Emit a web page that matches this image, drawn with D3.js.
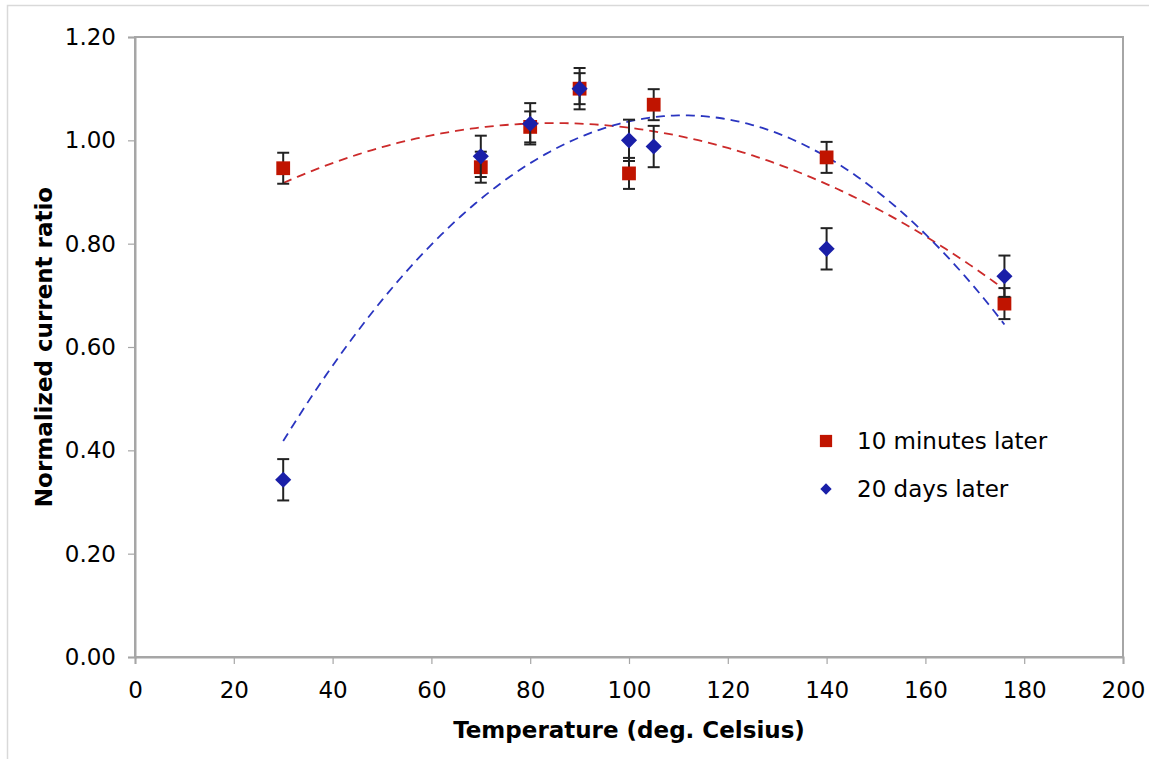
<!DOCTYPE html>
<html>
<head>
<meta charset="utf-8">
<script src="https://cdn.jsdelivr.net/npm/d3@7"></script>
<style>
  body { margin: 0; background: #fff; }
  text { font-family: "DejaVu Sans", Verdana, sans-serif; }
</style>
</head>
<body>
<script>
const temps = [30, 70, 80, 90, 100, 105, 140, 176];
const minutes10 = [0.946, 0.948, 1.026, 1.100, 0.936, 1.069, 0.967, 0.684];
const minutes10Err = [0.03, 0.03, 0.03, 0.03, 0.03, 0.03, 0.03, 0.03];
const days20 = [0.343, 0.969, 1.032, 1.100, 1.000, 0.988, 0.790, 0.737];
const days20Err = [0.04, 0.04, 0.04, 0.04, 0.04, 0.04, 0.04, 0.04];
const seriesNames = ["10 minutes later", "20 days later"];
const xTicks = [0, 20, 40, 60, 80, 100, 120, 140, 160, 180, 200];
const yTicks = [0, 0.2, 0.4, 0.6, 0.8, 1.0, 1.2];

(function() {
  const W = 1149, H = 759;
  const margin = { top: 37, right: 26, bottom: 102, left: 135 };
  const width = W - margin.left - margin.right;
  const height = H - margin.top - margin.bottom;

  const svg = d3.select("body").append("svg")
    .attr("width", W)
    .attr("height", H);

  // outer chart border
  svg.append("rect")
    .attr("x", 7.5).attr("y", 5.5)
    .attr("width", W).attr("height", H)
    .attr("fill", "none")
    .attr("stroke", "#d9d9d9")
    .attr("stroke-width", 1.5);

  const g = svg.append("g")
    .attr("transform", `translate(${margin.left},${margin.top})`);

  const x = d3.scaleLinear().domain([0, 200]).range([0, width]);
  const y = d3.scaleLinear().domain([0, 1.2]).range([height, 0]);

  // plot frame
  g.append("rect")
    .attr("width", width).attr("height", height)
    .attr("fill", "none")
    .attr("stroke", "#a6a6a6")
    .attr("stroke-width", 2);

  // axes
  const xAxis = g.append("g")
    .attr("transform", `translate(0,${height})`)
    .call(d3.axisBottom(x).tickValues(xTicks).tickSize(7).tickPadding(18).tickFormat(d3.format("d")));
  const yAxis = g.append("g")
    .call(d3.axisLeft(y).tickValues(yTicks).tickSize(7).tickPadding(12).tickFormat(d3.format(".2f")));

  [xAxis, yAxis].forEach(ax => {
    ax.select(".domain").attr("stroke", "#a6a6a6").attr("stroke-width", 2);
    ax.selectAll(".tick line").attr("stroke", "#a6a6a6").attr("stroke-width", 1.2);
    ax.selectAll(".tick text").attr("fill", "#000").style("font-size", "23px");
  });

  // axis titles
  g.append("text")
    .attr("x", width / 2)
    .attr("y", height + 81)
    .attr("text-anchor", "middle")
    .style("font-size", "23px")
    .style("font-weight", "bold")
    .text("Temperature (deg. Celsius)");

  g.append("text")
    .attr("transform", `translate(${-margin.left + 52},${height / 2}) rotate(-90)`)
    .attr("text-anchor", "middle")
    .style("font-size", "23px")
    .style("font-weight", "bold")
    .text("Normalized current ratio");

  // quadratic least squares trendline (like the spreadsheet's polynomial trendline)
  function quadFit(xs, ys) {
    const n = xs.length;
    let s = [0, 0, 0, 0, 0], t = [0, 0, 0];
    for (let i = 0; i < n; i++) {
      const xv = xs[i];
      for (let k = 0; k < 5; k++) s[k] += Math.pow(xv, k);
      for (let k = 0; k < 3; k++) t[k] += ys[i] * Math.pow(xv, k);
    }
    const A = [[s[0], s[1], s[2], t[0]], [s[1], s[2], s[3], t[1]], [s[2], s[3], s[4], t[2]]];
    for (let c = 0; c < 3; c++) {
      for (let r = c + 1; r < 3; r++) {
        const f = A[r][c] / A[c][c];
        for (let k = c; k < 4; k++) A[r][k] -= f * A[c][k];
      }
    }
    const coef = [0, 0, 0];
    for (let r = 2; r >= 0; r--) {
      let v = A[r][3];
      for (let k = r + 1; k < 3; k++) v -= A[r][k] * coef[k];
      coef[r] = v / A[r][r];
    }
    return xv => coef[0] + coef[1] * xv + coef[2] * xv * xv;
  }

  // diamond = square turned 45 degrees
  const series = [
    { name: seriesNames[0], values: minutes10, err: minutes10Err, color: "#c01400", trend: "#cc2a2a", rot: 0, size: 190, legendSize: 150 },
    { name: seriesNames[1], values: days20, err: days20Err, color: "#1a1fa8", trend: "#2a35c0", rot: 45, size: 130, legendSize: 64 }
  ];

  const line = d3.line().x(d => x(d[0])).y(d => y(d[1]));

  series.forEach(s => {
    const f = quadFit(temps, s.values);
    const lo = d3.min(temps), hi = d3.max(temps);
    const pts = d3.range(lo, hi + 0.5, 1).map(t => [Math.min(t, hi), f(Math.min(t, hi))]);
    g.append("path")
      .datum(pts)
      .attr("fill", "none")
      .attr("stroke", s.trend)
      .attr("stroke-width", 1.8)
      .attr("stroke-dasharray", "9,6")
      .attr("d", line);
  });

  series.forEach(s => {
    const data = temps.map((t, i) => ({ t: t, v: s.values[i], e: s.err[i] }));
    const eb = g.append("g");
    data.forEach(d => {
      eb.append("line")
        .attr("x1", x(d.t)).attr("x2", x(d.t))
        .attr("y1", y(d.v - d.e)).attr("y2", y(d.v + d.e))
        .attr("stroke", "#222").attr("stroke-width", 2);
      [d.v - d.e, d.v + d.e].forEach(c => {
        eb.append("line")
          .attr("x1", x(d.t) - 6).attr("x2", x(d.t) + 6)
          .attr("y1", y(c)).attr("y2", y(c))
          .attr("stroke", "#222").attr("stroke-width", 2);
      });
    });
    g.append("g").selectAll("path")
      .data(data)
      .join("path")
      .attr("transform", d => `translate(${x(d.t)},${y(d.v)}) rotate(${s.rot})`)
      .attr("d", d3.symbol().type(d3.symbolSquare).size(s.size))
      .attr("fill", s.color);
  });

  // legend
  const legend = g.append("g").attr("transform", `translate(${826 - margin.left},${441 - margin.top})`);
  series.forEach((s, i) => {
    const row = legend.append("g").attr("transform", `translate(0,${i * 48})`);
    row.append("path")
      .attr("transform", `rotate(${s.rot})`)
      .attr("d", d3.symbol().type(d3.symbolSquare).size(s.legendSize))
      .attr("fill", s.color);
    row.append("text")
      .attr("x", 31)
      .attr("dy", "0.36em")
      .style("font-size", "23px")
      .attr("fill", "#000")
      .text(s.name);
  });
})();
</script>
</body>
</html>
